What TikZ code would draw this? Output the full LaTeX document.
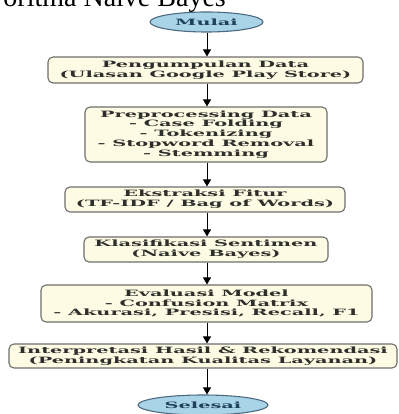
\documentclass[tikz,border=0pt]{standalone}
\usepackage{fontspec}
\setmainfont{Liberation Serif}
\newfontfamily\boxfont[FakeStretch=2.22]{DejaVu Serif Bold}
\newfontfamily\titlefont{Liberation Serif}
\usetikzlibrary{shapes.geometric,arrows.meta}
\definecolor{boxfill}{HTML}{FDFBE4}
\definecolor{boxdraw}{HTML}{6E6E6E}
\definecolor{ellfill}{HTML}{A9D3E6}
\definecolor{elldraw}{HTML}{4D6B80}
\definecolor{txt}{HTML}{2E2E2A}
\definecolor{elltxt}{HTML}{1E4058}
\tikzset{
  stepbox/.style={draw=boxdraw, fill=boxfill, line width=1.1pt, rounded corners=5pt,
    inner sep=0pt, align=center, text=txt, font=\boxfont\fontsize{8.7}{9.9}\selectfont},
  terminal/.style={ellipse, draw=elldraw, fill=ellfill, line width=1.1pt, inner sep=0pt,
    text=elltxt, font=\boxfont\fontsize{8.7}{9.9}\selectfont},
  flow/.style={line width=0.9pt, -{Triangle[length=7pt,width=8pt]}}
}
\begin{document}
\begin{tikzpicture}[x=1pt,y=-1pt]
\useasboundingbox (0,0) rectangle (398,414);
\fill[white] (0,0) rectangle (398,414);
\begin{scope}
\clip (0,0) rectangle (398,414);
\node[anchor=base east, inner sep=0pt, font=\titlefont\fontsize{28}{30}\selectfont] (title) at (226,7) {oritma Naive Bayes};
\end{scope}
\node[terminal, minimum width=113pt, minimum height=20pt] (start) at (206.5,22) {Mulai};
\node[stepbox, minimum width=315pt, minimum height=26pt] (b1) at (205.5,70) {Pengumpulan Data\\(Ulasan Google Play Store)};
\node[stepbox, minimum width=242pt, minimum height=55pt] (b2) at (206,134.5) {Preprocessing Data\\- Case Folding\\- Tokenizing\\- Stopword Removal\\- Stemming};
\node[stepbox, minimum width=280pt, minimum height=25pt] (b3) at (205,199.5) {Ekstraksi Fitur\\(TF-IDF / Bag of Words)};
\node[stepbox, minimum width=244pt, minimum height=25pt] (b4) at (206,249.5) {Klasifikasi Sentimen\\(Naive Bayes)};
\node[stepbox, minimum width=331pt, minimum height=37pt] (b5) at (206.5,303.5) {Evaluasi Model\\- Confusion Matrix\\- Akurasi, Presisi, Recall, F1};
\node[stepbox, minimum width=388pt, minimum height=24pt] (b6) at (203,356) {Interpretasi Hasil \& Rekomendasi\\(Peningkatan Kualitas Layanan)};
\node[terminal, minimum width=130pt, minimum height=20pt] (end) at (203,405) {Selesai};
\draw[flow] (start.south -| 207,0) -- (b1.north -| 207,0);
\draw[flow] (b1.south -| 207,0) -- (b2.north -| 207,0);
\draw[flow] (b2.south -| 207,0) -- (b3.north -| 207,0);
\draw[flow] (b3.south -| 207,0) -- (b4.north -| 207,0);
\draw[flow] (b4.south -| 207,0) -- (b5.north -| 207,0);
\draw[flow] (b5.south -| 207,0) -- (b6.north -| 207,0);
\draw[flow] (b6.south -| 207,0) -- (end.north -| 207,0);
\end{tikzpicture}
\end{document}
